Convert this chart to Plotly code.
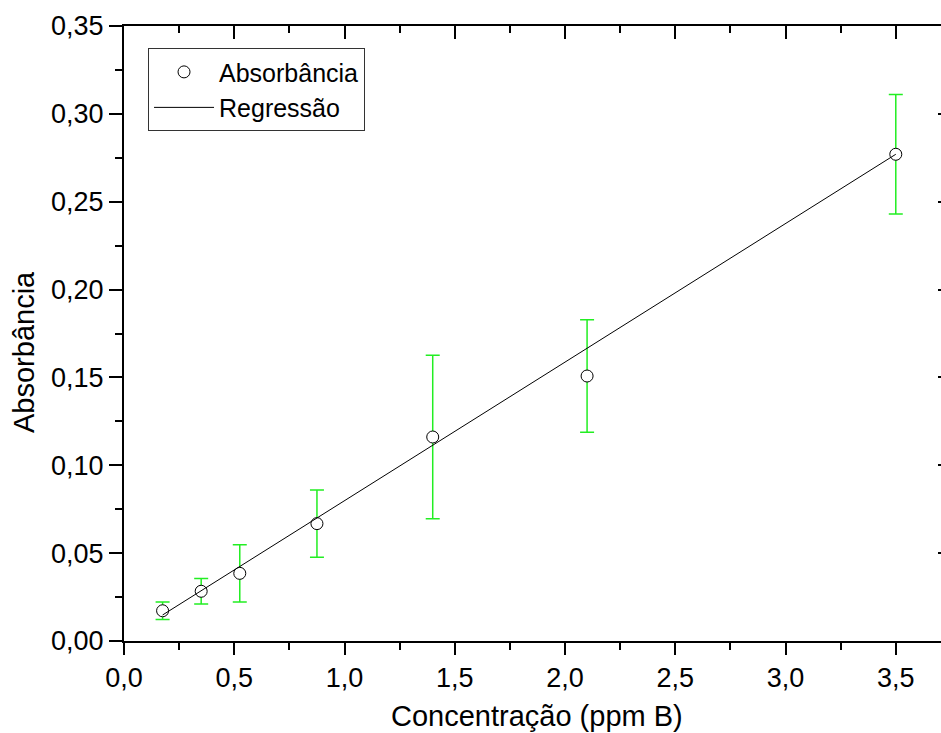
import plotly.graph_objects as go

# Data
concentracao = [0.175, 0.35, 0.525, 0.875, 1.4, 2.1, 3.5]
absorbancia = [0.0172, 0.0283, 0.0385, 0.0668, 0.1161, 0.1508, 0.2770]
erro = [0.0050, 0.0073, 0.0163, 0.0192, 0.0465, 0.0320, 0.0340]

reg_x = [0.175, 3.5]
reg_y = [0.0148, 0.2770]

x_range = [0, 3.705]
y_range = [0, 0.35]

FONT = "Liberation Sans, Arial, sans-serif"

fig = go.Figure()

fig.add_trace(go.Scatter(
    x=concentracao, y=absorbancia, mode="markers", name="Absorbância",
    marker=dict(symbol="circle", size=12, color="white",
                line=dict(color="black", width=1)),
    error_y=dict(type="data", array=erro, visible=True,
                 color="#22ee22", thickness=1.5, width=7),
))

fig.add_trace(go.Scatter(
    x=reg_x, y=reg_y, mode="lines", name="Regressão",
    line=dict(color="black", width=1),
))

# dummy trace to activate mirrored axes
fig.add_trace(go.Scatter(
    x=[None], y=[None], xaxis="x2", yaxis="y2", showlegend=False,
    hoverinfo="skip",
))

axis_common = dict(showgrid=False, zeroline=False, showline=True,
                   linecolor="black", linewidth=2, tickcolor="black",
                   tickwidth=2)

fig.update_layout(
    width=941, height=733,
    margin=dict(l=124, r=0, t=26, b=92),
    paper_bgcolor="white", plot_bgcolor="white",
    separators=", ",
    font=dict(family=FONT, size=27, color="black"),
    xaxis=dict(range=x_range, dtick=0.5, tick0=0, tickformat=".1f",
               ticks="outside", ticklen=12,
               minor=dict(dtick=0.25, ticks="outside", ticklen=7,
                          tickwidth=2, tickcolor="black"),
               tickfont=dict(size=27), **axis_common),
    yaxis=dict(range=y_range, dtick=0.05, tick0=0, tickformat=".2f",
               ticks="outside", ticklen=13,
               minor=dict(dtick=0.025, ticks="outside", ticklen=7,
                          tickwidth=2, tickcolor="black"),
               tickfont=dict(size=27), **axis_common),
    xaxis2=dict(range=x_range, overlaying="x", side="top", anchor="y2",
                dtick=0.5, tick0=0, ticks="inside", ticklen=13,
                showticklabels=False,
                minor=dict(dtick=0.25, ticks="inside", ticklen=7,
                           tickwidth=2, tickcolor="black"),
                **axis_common),
    yaxis2=dict(range=y_range, overlaying="y", side="right", anchor="x2",
                dtick=0.05, tick0=0, ticks="inside", ticklen=3,
                showticklabels=False, showgrid=False, zeroline=False,
                showline=False, tickcolor="black", tickwidth=2),
    legend=dict(x=0.0294, y=0.964, xanchor="left", yanchor="top",
                bordercolor="#333333", borderwidth=1, bgcolor="white",
                font=dict(size=25), tracegroupgap=0, itemwidth=60),
    showlegend=True,
    annotations=[
        dict(text="Concentração (ppm B)", xref="paper", yref="paper",
             x=(536.7 - 124) / 817, y=-(716 - 641) / 615,
             xanchor="center", yanchor="middle", showarrow=False,
             font=dict(size=29)),
        dict(text="Absorbância", xref="paper", yref="paper",
             x=(24 - 124) / 817, y=(641 - 352) / 615,
             xanchor="center", yanchor="middle", showarrow=False,
             textangle=-90, font=dict(size=29)),
    ],
)

fig.write_html("out.html")
